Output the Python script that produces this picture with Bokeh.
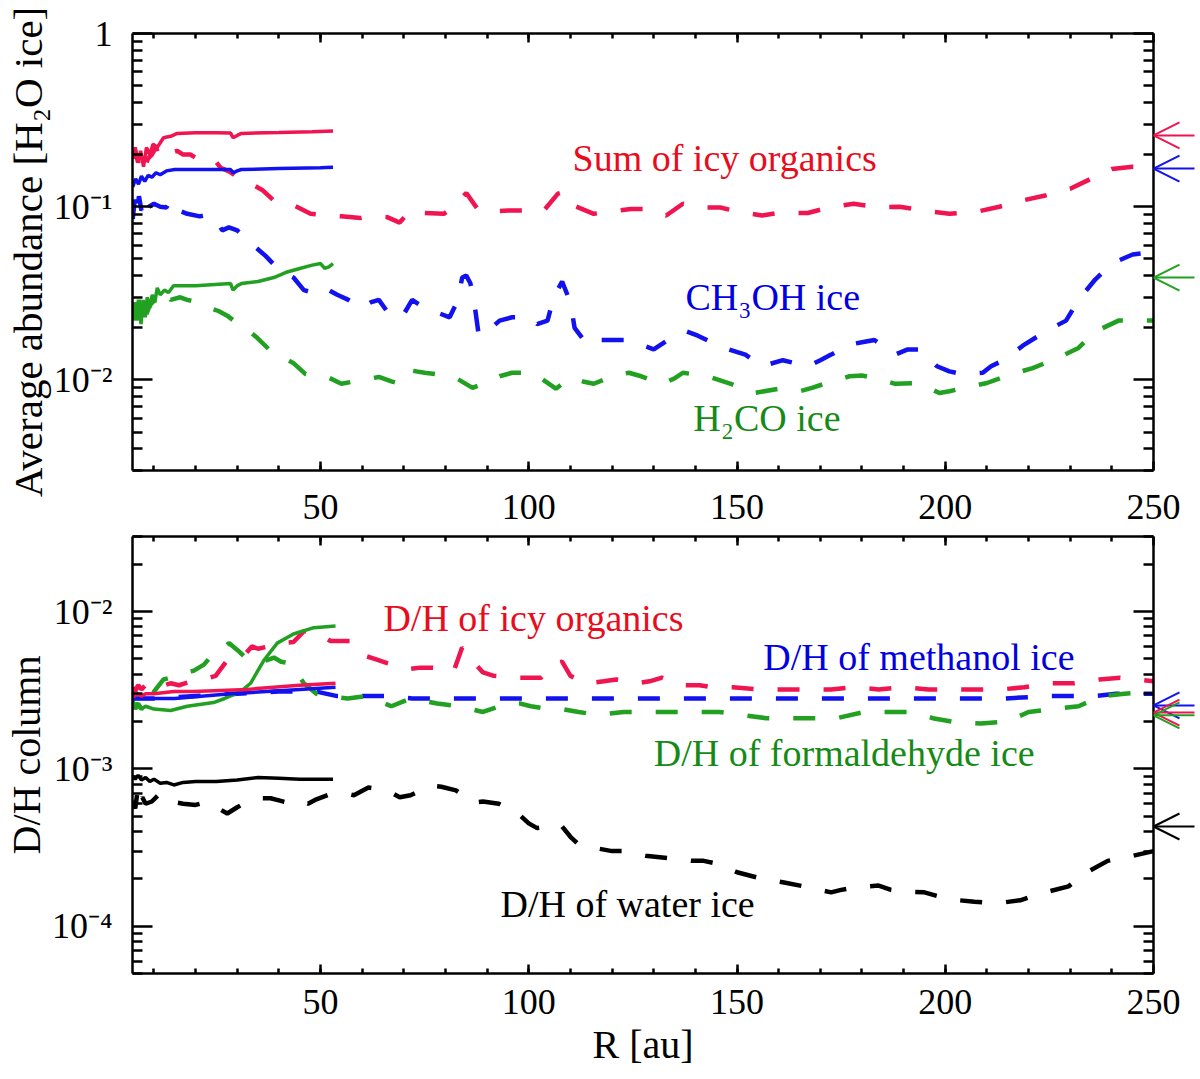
from bokeh.plotting import figure
from bokeh.layouts import column, row
from bokeh.models import (LinearAxis, LogAxis, FixedTicker, CustomJSTickFormatter,
                          Label, Arrow, OpenHead, Range1d)
from bokeh.embed import file_html
from bokeh.resources import INLINE

FONT = "Liberation Serif"
RED, BLUE, GREEN, BLACK = "#f01450", "#1212ee", "#22a022", "#000000"
RED_T, BLUE_T, GREEN_T = "#e80c1c", "#0000e0", "#168a16"

# ---------------- top panel: average abundance relative to H2O ice
org_solid_r = [4.9, 5.5, 6.2, 6.8, 7.5, 8.2, 9, 9.8, 10.8, 12.3, 14, 15.6, 20, 25, 28.4, 29, 30, 31, 40, 48, 53]
org_solid_y = [0.19, 0.22, 0.18, 0.21, 0.17, 0.22, 0.2, 0.23, 0.22, 0.25, 0.255, 0.265, 0.267, 0.267, 0.266,
               0.25, 0.258, 0.265, 0.268, 0.271, 0.274]
meoh_solid_r = [4.9, 5.6, 6.3, 7, 7.8, 8.6, 9.5, 10.5, 11.5, 13, 15, 20, 28.4, 29, 30, 31, 40, 50, 53]
meoh_solid_y = [0.13, 0.145, 0.135, 0.15, 0.14, 0.152, 0.148, 0.157, 0.153, 0.161, 0.164, 0.164, 0.164,
                0.157, 0.161, 0.164, 0.166, 0.168, 0.169]
h2co_solid_r = [4.9, 5.4, 5.9, 6.4, 6.9, 7.4, 7.9, 8.4, 9, 9.6, 10.2, 10.8, 11.5, 12.5, 13.5, 14.7, 20, 28.4,
                29, 30, 31, 35, 38.8, 42, 45, 48, 50, 51, 52, 53]
h2co_solid_y = [0.024, 0.028, 0.022, 0.027, 0.021, 0.029, 0.023, 0.03, 0.026, 0.031, 0.028, 0.034, 0.031,
                0.033, 0.032, 0.035, 0.035, 0.036, 0.033, 0.035, 0.036, 0.037, 0.039, 0.042, 0.044, 0.046,
                0.047, 0.044, 0.045, 0.047]

org_dash_r = [4.9, 5.5, 6.2, 7, 7.8, 8.6, 9.5, 10.5, 11.5, 13, 15.6, 17, 18.8, 21, 23.5, 25, 26, 28, 30.8, 34,
              36, 38.7, 42.8, 45, 47.6, 52.4, 55, 59.6, 62, 66, 69, 71.6, 75, 79.6, 82, 85, 87.7, 90, 95, 100,
              103.6, 107, 108.5, 111, 115.6, 120, 124.5, 128, 133, 137, 141, 146, 149, 156, 160, 167, 172,
              178, 184, 189, 195, 201, 207, 213, 218, 224, 230, 235, 240, 245, 250]
org_dash_y = [0.19, 0.21, 0.18, 0.2, 0.17, 0.19, 0.2, 0.22, 0.19, 0.2, 0.21, 0.2, 0.2, 0.185, 0.19, 0.18,
              0.168, 0.16, 0.145, 0.133, 0.125, 0.109, 0.104, 0.098, 0.091, 0.089, 0.088, 0.086, 0.088,
              0.087, 0.081, 0.095, 0.092, 0.091, 0.1, 0.12, 0.097, 0.094, 0.095, 0.095, 0.095, 0.119,
              0.122, 0.101, 0.091, 0.094, 0.097, 0.097, 0.089, 0.104, 0.099, 0.099, 0.095, 0.089, 0.092,
              0.092, 0.099, 0.104, 0.099, 0.1, 0.095, 0.091, 0.093, 0.1, 0.108, 0.116, 0.127, 0.145,
              0.165, 0.17, 0.17]
meoh_dash_r = [4.9, 5.4, 5.9, 6.4, 7, 7.6, 8.2, 8.8, 10, 11.5, 13, 14, 14.7, 16, 18, 21, 23, 24.7, 26.4, 28,
               30, 32.5, 34.5, 36.8, 39.7, 41.5, 43.5, 46, 48, 50.5, 52, 54, 56.7, 59.6, 62, 64, 67, 70, 72,
               75, 77, 81, 83, 84, 85, 86, 87, 88, 91, 93, 96, 100, 102, 104.5, 106, 108, 110, 111, 114,
               117, 120, 124.5, 127, 130, 135, 138, 140.6, 145, 148, 152, 156, 161, 167, 170, 172.6, 177,
               180, 183, 188, 191, 194, 198, 201, 204, 209, 211, 214, 219, 224, 229, 232, 236, 240, 245, 250]
meoh_dash_y = [0.085, 0.11, 0.09, 0.115, 0.095, 0.105, 0.092, 0.1, 0.104, 0.1, 0.099, 0.109, 0.097, 0.095,
               0.091, 0.088, 0.09, 0.086, 0.073, 0.076, 0.073, 0.064, 0.058, 0.052, 0.044, 0.041, 0.039,
               0.033, 0.032, 0.031, 0.033, 0.031, 0.029, 0.026, 0.028, 0.029, 0.023, 0.024, 0.029, 0.026,
               0.025, 0.023, 0.029, 0.039, 0.04, 0.036, 0.027, 0.018, 0.02, 0.022, 0.023, 0.023, 0.021,
               0.022, 0.03, 0.037, 0.028, 0.02, 0.016, 0.017, 0.017, 0.017, 0.016, 0.015, 0.018, 0.019,
               0.018, 0.016, 0.015, 0.014, 0.012, 0.013, 0.012, 0.013, 0.014, 0.016, 0.0165, 0.017, 0.014,
               0.015, 0.015, 0.012, 0.0112, 0.0108, 0.011, 0.012, 0.013, 0.016, 0.019, 0.022, 0.029, 0.038,
               0.047, 0.053, 0.055]
h2co_dash_r = [4.9, 5.4, 5.9, 6.4, 7, 7.6, 8.2, 9, 10.8, 12.3, 14, 16.3, 18, 20.7, 23.5, 25.5, 27.6, 30.8,
               33, 34.8, 38, 41, 43.5, 46.4, 49, 52, 55, 59, 64, 67, 69, 72, 75, 78, 83, 86.5, 91, 93, 96,
               101, 104, 106.5, 110, 113, 115.6, 120, 124, 127, 132, 135, 137, 143, 148.5, 154, 160, 165,
               168, 171, 177, 180, 183, 188, 193.5, 198.6, 201, 204.6, 210, 216, 221, 227, 232, 236, 241.6,
               245, 250]
h2co_dash_y = [0.022, 0.028, 0.023, 0.029, 0.022, 0.027, 0.024, 0.027, 0.03, 0.033, 0.029, 0.03, 0.029,
               0.028, 0.026, 0.025, 0.0235, 0.0205, 0.019, 0.0175, 0.0147, 0.0135, 0.0125, 0.0108, 0.0105,
               0.0103, 0.0095, 0.0099, 0.0104, 0.0098, 0.0095, 0.0113, 0.011, 0.0108, 0.0101, 0.009,
               0.0099, 0.0105, 0.011, 0.011, 0.0098, 0.0089, 0.0103, 0.0098, 0.0095, 0.0105, 0.011, 0.0105,
               0.0095, 0.0102, 0.011, 0.0105, 0.0095, 0.0084, 0.0089, 0.0086, 0.009, 0.0095, 0.0105,
               0.0106, 0.0103, 0.0095, 0.0096, 0.0084, 0.0086, 0.009, 0.0096, 0.0108, 0.0117, 0.0134,
               0.0153, 0.019, 0.022, 0.022, 0.022]
top_arrow_y = [0.258, 0.166, 0.039]

# ---------------- bottom panel: column D/H ratios
dh_org_solid_r = [4.9, 6, 7, 8, 10, 14.8, 19.5, 32.4, 45, 53.6]
dh_org_solid_y = [0.00285, 0.003, 0.0029, 0.003, 0.003, 0.0031, 0.0031, 0.0032, 0.0034, 0.0035]
dh_meoh_solid_r = [4.9, 8, 15, 28.4, 45, 53.6]
dh_meoh_solid_y = [0.0028, 0.0028, 0.0028, 0.003, 0.0032, 0.0033]
dh_h2co_solid_r = [4.9, 6, 7, 8, 10, 14, 18, 24.3, 27, 30.8, 33.2, 36.4, 39.6, 43.5, 48.4, 53.6]
dh_h2co_solid_y = [0.0025, 0.0026, 0.0024, 0.0025, 0.0024, 0.00235, 0.0025, 0.00264, 0.0028, 0.0031,
                   0.0035, 0.0049, 0.0063, 0.0072, 0.0079, 0.0081]
dh_h2o_solid_r = [4.9, 5.5, 6.2, 7, 8, 9, 10, 11.5, 13, 14.8, 17, 20, 25, 30, 35, 40, 45, 53]
dh_h2o_solid_y = [0.0009, 0.00086, 0.00091, 0.00085, 0.00088, 0.00083, 0.00086, 0.00081, 0.00082, 0.00079,
                  0.00082, 0.00083, 0.00083, 0.00085, 0.00088, 0.00087, 0.00086, 0.00086]

dh_org_dash_r = [4.9, 5.5, 6.2, 7, 8, 9, 11, 14, 16, 19, 22, 24.8, 27.6, 30, 32, 33.5, 35, 37.5, 40, 43.5,
                 46, 48.8, 52.4, 57, 60, 63, 66, 71, 74, 77, 82, 84, 87, 89, 91.6, 96.4, 100, 103, 106.5,
                 108, 110, 114, 118, 121, 126, 129, 132, 137, 141, 144, 149, 155, 160.6, 166.6, 172.6, 178,
                 184, 190, 196, 202, 207.5, 213.5, 219, 225, 231, 237, 242, 246, 250]
dh_org_dash_y = [0.0033, 0.0031, 0.0034, 0.0032, 0.0034, 0.0032, 0.0033, 0.0035, 0.0034, 0.0036, 0.0037,
                 0.0039, 0.0049, 0.0053, 0.0054, 0.006, 0.0058, 0.006, 0.0063, 0.0064, 0.0075, 0.0074,
                 0.0065, 0.0065, 0.0053, 0.005, 0.0047, 0.0043, 0.0044, 0.0044, 0.0042, 0.0059, 0.0047,
                 0.0041, 0.0039, 0.0038, 0.0038, 0.0038, 0.0047, 0.0048, 0.0039, 0.0035, 0.0036, 0.0037,
                 0.0035, 0.0036, 0.0038, 0.0034, 0.0034, 0.0033, 0.0033, 0.0032, 0.0032, 0.0032, 0.0032,
                 0.0033, 0.0032, 0.0033, 0.0032, 0.0032, 0.0032, 0.0032, 0.0033, 0.0035, 0.0035, 0.0037,
                 0.0038, 0.0037, 0.0036]
dh_meoh_dash_r = [4.9, 10, 20, 30, 40, 49, 54, 61, 66, 72, 82, 94, 105, 117, 129, 140, 154, 166, 178, 190,
                  202, 214, 225, 235.6, 241, 250]
dh_meoh_dash_y = [0.0028, 0.0028, 0.0029, 0.003, 0.0031, 0.0031, 0.0029, 0.0029, 0.0029, 0.0028, 0.0028,
                  0.0028, 0.0028, 0.0028, 0.0028, 0.0028, 0.0028, 0.0028, 0.0028, 0.0028, 0.0028, 0.0028,
                  0.0029, 0.0029, 0.003, 0.003]
dh_h2co_dash_r = [4.9, 5.5, 6.2, 7, 8, 9, 10, 12.3, 14, 15.6, 19.5, 22, 24, 26, 28, 30, 32, 35, 37, 38.8,
                  40.5, 42.4, 44.5, 46, 49, 52, 56.5, 61, 64, 67, 71.6, 75, 78, 83, 86, 89, 95, 98, 100.5,
                  105, 108, 112, 116.6, 122.8, 128, 134, 140, 145.7, 151, 157, 163, 169, 174, 180.5, 186,
                  192, 197, 203, 208.6, 215, 220, 226, 232, 237.5, 243, 250]
dh_h2co_dash_y = [0.0027, 0.0024, 0.0026, 0.0024, 0.0026, 0.0025, 0.0031, 0.0037, 0.0038, 0.004, 0.0042,
                  0.0046, 0.0053, 0.0056, 0.0063, 0.0057, 0.0051, 0.0047, 0.0049, 0.0051, 0.0048, 0.0047,
                  0.004, 0.0035, 0.003, 0.0029, 0.0028, 0.0029, 0.0027, 0.0025, 0.0028, 0.0027, 0.0026,
                  0.0025, 0.0024, 0.0023, 0.0026, 0.0026, 0.0025, 0.0024, 0.0024, 0.0023, 0.0022, 0.0023,
                  0.0023, 0.0023, 0.0023, 0.0023, 0.0022, 0.0021, 0.0021, 0.0021, 0.0021, 0.0023, 0.0023,
                  0.0023, 0.0021, 0.00197, 0.00194, 0.002, 0.0023, 0.0024, 0.0025, 0.0029, 0.003, 0.0031]
dh_h2o_dash_r = [4.9, 5.5, 6, 6.6, 7.2, 8, 9.5, 11.5, 14, 15.5, 17, 20, 22, 24, 26, 27.6, 30, 32, 35.6, 38,
                 40, 42, 45, 47, 49, 51.7, 56, 58, 61.5, 66, 69, 71.6, 76.4, 79, 82.5, 86.8, 89, 92.8, 97.4,
                 100, 102, 105, 107.7, 110, 112, 117, 120, 122.6, 128, 133.7, 139, 142, 145, 150, 156, 161,
                 167, 172.6, 175, 178.6, 184, 187, 190, 195, 201, 207, 212.7, 218, 221, 224, 229.6, 234, 239,
                 245, 250]
dh_h2o_dash_y = [0.00063, 0.00056, 0.0007, 0.00058, 0.00066, 0.0006, 0.00062, 0.0007, 0.00065, 0.00061,
                 0.0006, 0.00059, 0.00061, 0.0006, 0.00055, 0.00052, 0.00057, 0.00061, 0.00065, 0.00065,
                 0.00063, 0.00061, 0.00063, 0.0006, 0.00064, 0.00068, 0.0007, 0.00068, 0.00076, 0.00073,
                 0.00066, 0.00068, 0.00078, 0.00077, 0.00073, 0.00061, 0.00062, 0.0006, 0.00052, 0.00045,
                 0.00042, 0.00043, 0.00044, 0.00037, 0.00033, 0.00031, 0.0003, 0.0003, 0.00028, 0.00027,
                 0.00026, 0.00026, 0.00025, 0.00022, 0.0002, 0.00019, 0.000177, 0.000164, 0.00017,
                 0.000177, 0.000181, 0.00017, 0.000166, 0.000164, 0.000148, 0.000143, 0.00014, 0.000146,
                 0.000155, 0.000164, 0.000179, 0.00022, 0.00026, 0.00028, 0.0003]
bottom_arrow_y = [0.00253, 0.00228, 0.00219, 0.00043]

SUP = CustomJSTickFormatter(code="""
const e = Math.round(Math.log10(tick));
if (e == 0) return "1";
const m = {"-": "\u207b", "0": "\u2070", "1": "\u00b9", "2": "\u00b2", "3": "\u00b3",
           "4": "\u2074", "5": "\u2075", "6": "\u2076", "7": "\u2077", "8": "\u2078", "9": "\u2079"};
return "10" + String(e).split("").map(c => m[c]).join("");
""")
BLANK = CustomJSTickFormatter(code='return "";')

FRAME_W, FRAME_H = 1021, 437
RIGHT = 47   # room right of the frame: last tick label and the arrows


def style_axis(ax, major, minor, show_labels=True):
    ax.axis_line_width = 2.5
    ax.axis_line_color = "black"
    ax.major_tick_in = major
    ax.major_tick_out = 0
    ax.minor_tick_in = minor
    ax.minor_tick_out = 0
    ax.major_tick_line_width = 2.5
    ax.minor_tick_line_width = 2.5
    ax.major_label_text_font = FONT
    ax.major_label_text_color = "black"
    ax.axis_label_text_font = FONT
    ax.axis_label_text_font_style = "normal"
    ax.axis_label_text_font_size = "40px"
    ax.axis_label_text_color = "black"
    if show_labels:
        ax.major_label_text_font_size = "36px"
    else:
        ax.formatter = BLANK
        ax.major_label_text_font_size = "2px"
        ax.major_label_standoff = 0


def panel(ylo, yhi, decades, ylabel, top, bottom, xlabel=None, xstand=20, ylab_size="40px"):
    p = figure(output_backend="svg", toolbar_location=None, tools="", y_axis_type="log",
               x_range=Range1d(4.85, 250), y_range=Range1d(ylo, yhi),
               frame_width=FRAME_W, frame_height=FRAME_H, min_border_left=132, min_border_right=RIGHT,
               min_border_top=top, min_border_bottom=bottom)
    p.grid.visible = False
    p.outline_line_color = None
    xt = FixedTicker(ticks=[50, 100, 150, 200, 250], minor_ticks=list(range(10, 250, 10)))
    yt = FixedTicker(ticks=decades, minor_ticks=[m * d for d in decades for m in range(2, 10)])
    p.xaxis.ticker = xt
    p.yaxis.ticker = yt
    p.yaxis.formatter = SUP
    p.yaxis.axis_label = ylabel
    p.xaxis.major_label_standoff = xstand
    if xlabel:
        p.xaxis.axis_label = xlabel
    style_axis(p.xaxis[0], 9, 5)
    style_axis(p.yaxis[0], 20, 10)
    p.yaxis.major_label_standoff = 20
    p.yaxis.axis_label_standoff = 0
    p.yaxis.axis_label_text_font_size = ylab_size
    p.xaxis.axis_label_standoff = 5
    ax_top = LinearAxis(ticker=xt)
    style_axis(ax_top, 9, 5, show_labels=False)
    p.add_layout(ax_top, "above")
    ax_right = LogAxis(ticker=yt)
    style_axis(ax_right, 20, 10, show_labels=False)
    p.add_layout(ax_right, "right")
    return p


def arrow_strip(main, top, bottom, ys, colors):
    # transparent strip laid over the right border, sharing the y range, for the arrows
    a = figure(output_backend="svg", toolbar_location=None, tools="", y_axis_type="log",
               x_axis_location=None, y_axis_location=None,
               x_range=Range1d(0, 1), y_range=main.y_range,
               frame_width=RIGHT, frame_height=FRAME_H, min_border_left=0, min_border_right=0,
               min_border_top=top, min_border_bottom=bottom, margin=(0, 0, 0, -RIGHT))
    a.grid.visible = False
    a.outline_line_color = None
    a.background_fill_color = None
    a.border_fill_color = None
    for y, c in zip(ys, colors):
        a.add_layout(Arrow(end=OpenHead(size=26, line_color=c, line_width=2),
                           x_start=41 / RIGHT, y_start=y, x_end=0.0, y_end=y,
                           line_color=c, line_width=2))
    return a


def lines(p, series):
    for r, y, c, dashed in series:
        if dashed:
            p.line(r, y, line_color=c, line_width=4.5, line_dash="22 24")
        else:
            p.line(r, y, line_color=c, line_width=3.5)


def label(p, x, y, text, color):
    p.add_layout(Label(x=x, y=y, y_offset=11, text=text, text_font=FONT, text_font_size="38px",
                       text_color=color, text_baseline="alphabetic", text_align="left"))


p1 = panel(0.003, 1.0, [0.001, 0.01, 0.1, 1.0], "Average abundance [H\u2082O ice]", 33, 64,
           xstand=24, ylab_size="41px")
lines(p1, [
    (org_dash_r, org_dash_y, RED, True),
    (meoh_dash_r, meoh_dash_y, BLUE, True),
    (h2co_dash_r, h2co_dash_y, GREEN, True),
    (org_solid_r, org_solid_y, RED, False),
    (meoh_solid_r, meoh_solid_y, BLUE, False),
    (h2co_solid_r, h2co_solid_y, GREEN, False),
])
label(p1, 110.5, 0.166, "Sum of icy organics", RED_T)
label(p1, 137.6, 0.026, "CH\u2083OH ice", BLUE_T)
label(p1, 139.5, 0.0052, "H\u2082CO ice", GREEN_T)
a1 = arrow_strip(p1, 33, 64, top_arrow_y, [RED, BLUE, GREEN])

p2 = panel(5e-5, 0.03, [1e-5, 1e-4, 1e-3, 1e-2], "D/H column", 2, 100, xlabel="R [au]", xstand=16)
lines(p2, [
    (dh_org_dash_r, dh_org_dash_y, RED, True),
    (dh_meoh_dash_r, dh_meoh_dash_y, BLUE, True),
    (dh_h2co_dash_r, dh_h2co_dash_y, GREEN, True),
    (dh_h2o_dash_r, dh_h2o_dash_y, BLACK, True),
    (dh_h2co_solid_r, dh_h2co_solid_y, GREEN, False),
    (dh_meoh_solid_r, dh_meoh_solid_y, BLUE, False),
    (dh_org_solid_r, dh_org_solid_y, RED, False),
    (dh_h2o_solid_r, dh_h2o_solid_y, BLACK, False),
])
label(p2, 65.1, 0.0078, "D/H of icy organics", RED_T)
label(p2, 156.3, 0.0044, "D/H of methanol ice", BLUE_T)
label(p2, 130, 0.00108, "D/H of formaldehyde ice", GREEN_T)
label(p2, 93.2, 0.000117, "D/H of water ice", BLACK)
a2 = arrow_strip(p2, 2, 100, bottom_arrow_y, [BLUE, RED, GREEN, BLACK])

layout = column(row(p1, a1, spacing=0), row(p2, a2, spacing=0), spacing=0)
open("out.html", "w").write(file_html(layout, INLINE))
